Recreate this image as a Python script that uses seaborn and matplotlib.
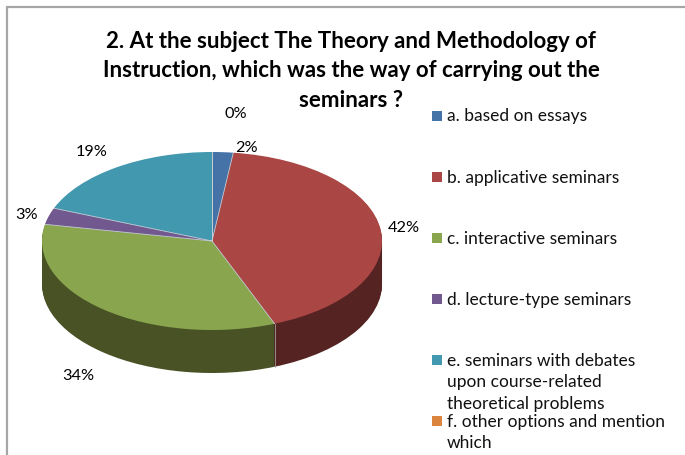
#!/usr/bin/env python3
"""
Office style 3D pie of seminar types, legend on the right
"""

import numpy as np
import seaborn as sns
import matplotlib.pyplot as plt
from matplotlib.patches import Rectangle

W, H = 685, 455

categories = [
    "a. based on essays",
    "b. applicative seminars",
    "c. interactive seminars",
    "d. lecture-type seminars",
    "e. seminars with debates\nupon course-related\ntheoretical problems",
    "f. other options and mention\nwhich",
]
values = [2, 42, 34, 3, 19, 0]
top_colors = ["#4572A7", "#AA4643", "#89A54E", "#71588F", "#4198AF", "#DB843D"]
side_colors = ["#2A4565", "#552322", "#485225", "#3C2E4C", "#225665", "#7A4A20"]
title_lines = [
    "2. At the subject The Theory and Methodology of",
    "Instruction, which was the way of carrying out the",
    "seminars ?",
]

sns.set_theme(style="white")
plt.rcParams["font.family"] = ["Lato", "DejaVu Sans"]

fig = plt.figure(figsize=(W / 100, H / 100), dpi=100, facecolor="white")

# overlay in pixel coords, y down
bg = fig.add_axes([0, 0, 1, 1])
bg.set_xlim(0, W)
bg.set_ylim(H, 0)
bg.axis("off")

# chart area frame, only top and left end up inside the crop
bg.plot([7, 7], [455, 7], color="#A6A6A6", lw=1.6)
bg.plot([7, 685], [7, 7], color="#A6A6A6", lw=1.6)

# pie axes, stretched so the circle comes out as the ellipse
cx, cy, rx, ry = 212, 241, 170, 89
depth_px = 43
ax = fig.add_axes([(cx - rx) / W, 1 - (cy + ry) / H, 2 * rx / W, 2 * ry / H])

# stack of dark pies for the side wall, bottom one first
for d in range(depth_px, 0, -1):
    ax.pie(
        values,
        colors=sns.color_palette(side_colors),
        startangle=90,
        counterclock=False,
        center=(0, -d / ry),
        wedgeprops={"linewidth": 0, "clip_on": False},
    )

ax.pie(
    values,
    colors=sns.color_palette(top_colors),
    startangle=90,
    counterclock=False,
    wedgeprops={"linewidth": 0, "clip_on": False},
)
ax.set_aspect("auto")
ax.set_xlim(-1, 1)
ax.set_ylim(-1, 1)

bg.set_zorder(ax.get_zorder() + 1)
bg.patch.set_alpha(0)

# thin light lines on the slice borders, and the seam on the front wall
angles = np.cumsum([0] + values[:5]) / sum(values) * 2 * np.pi
for a in angles:
    bg.plot(
        [cx, cx + rx * np.sin(a)], [cy, cy - ry * np.cos(a)],
        color="#C8D0D8", lw=0.6,
    )
seam_x = cx + rx * np.sin(angles[2])
seam_y = cy - ry * np.cos(angles[2])
bg.plot([seam_x, seam_x], [seam_y, seam_y + depth_px], color="#A09C98", lw=0.6)

for i, line in enumerate(title_lines):
    bg.text(
        351, 41.5 + i * 29.3, line, ha="center", va="center", fontsize=16,
        fontweight="bold", color="black",
    )

# data labels, placed like the original
label_xy = [(246, 148), (404, 228), (78, 376), (27, 215), (92, 152), (236, 114)]
for v, (x, y) in zip(values, label_xy):
    bg.text(x, y, f"{v}%", ha="center", va="center", fontsize=11.7, color="black")

# legend, fixed pitch so the wrapped entries run into each other
leg_x, leg_y, pitch, box = 432, 116, 61, 10
for i, (name, col) in enumerate(zip(categories, top_colors)):
    y = leg_y + i * pitch
    bg.add_patch(Rectangle((leg_x, y - box / 2), box, box, color=col, lw=0))
    bg.text(
        leg_x + 15, y - 7.5, name, ha="left", va="top", fontsize=12.5,
        color="#111111", linespacing=1.45,
    )

plt.savefig("out.png", dpi=100)
